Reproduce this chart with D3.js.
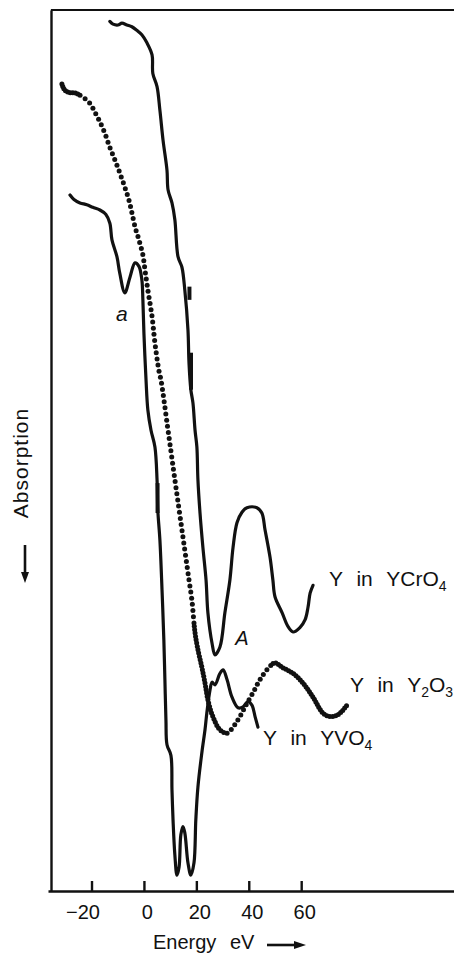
<!DOCTYPE html>
<html>
<head>
<meta charset="utf-8">
<script src="https://cdn.jsdelivr.net/npm/d3@7"></script>
<style>
  html, body { margin: 0; padding: 0; background: #fff; }
  svg { display: block; font-family: "Liberation Sans", Arial, sans-serif; }
</style>
</head>
<body>
<div id="chart"></div>
<script>
// energy (eV) vs absorption (arb. units, increasing downward)
const energyTicks = [-20, 0, 20, 40, 60];

const ycro4 = [[-13.0,1.3],[-11.8,1.6],[-9.9,1.7],[-8.4,1.5],[-6.5,1.7],[-4.6,1.9],[-2.7,2.3],[-0.8,2.8],[1.1,3.7],[3.1,5.1],[3.4,7.2],[5.0,8.7],[6.1,11.4],[7.3,14.8],[8.8,18.2],[9.2,20.4],[10.7,21.9],[11.8,23.8],[13.0,28.0],[14.5,29.2],[15.6,31.8],[16.8,36.3],[17.2,40.1],[17.9,43.1],[18.7,44.6],[19.5,47.7],[20.2,49.6],[20.6,53.3],[21.4,57.1],[22.5,61.0],[23.7,64.7],[24.4,68.4],[26.0,71.9],[27.1,73.2],[29.0,72.3],[30.9,68.4],[32.8,64.7],[34.0,61.0],[35.5,58.2],[37.4,57.0],[39.3,56.5],[43.1,56.5],[45.0,57.1],[46.2,59.0],[48.1,62.1],[49.2,64.7],[50.0,66.6],[52.7,68.4],[55.0,70.0],[56.9,70.6],[59.5,70.1],[61.5,69.2],[62.6,67.8],[63.4,66.2],[64.5,65.3]];

const y2o3 = [[-31.3,8.4],[-30.2,9.1],[-28.2,9.4],[-26.3,9.4],[-23.7,9.8],[-20.6,10.6],[-18.7,11.6],[-16.8,12.7],[-14.9,14.0],[-13.0,15.6],[-11.1,17.0],[-9.2,18.5],[-7.3,20.1],[-5.7,21.6],[-4.6,23.0],[-3.4,24.6],[-1.9,26.1],[-0.4,27.8],[0.4,29.5],[1.5,31.8],[3.1,34.8],[4.2,37.8],[5.7,40.9],[6.5,42.0],[9.2,47.7],[11.8,53.3],[14.5,59.0],[17.2,64.7],[18.3,67.0],[19.5,70.7],[20.6,72.6],[22.1,74.6],[23.3,76.4],[24.4,78.3],[26.3,80.2],[29.0,81.7],[31.7,82.1],[34.0,81.4],[36.6,80.2],[39.3,78.7],[41.6,77.5],[44.3,76.0],[46.9,74.9],[50.0,74.1],[52.7,74.6],[56.9,75.3],[60.7,76.4],[64.5,78.0],[68.3,79.8],[71.0,80.2],[74.0,80.0],[77.5,78.9]];

const yvo4 = [[-28.2,21.0],[-26.7,21.5],[-24.4,21.9],[-21.8,22.1],[-19.5,22.4],[-16.8,22.7],[-14.5,23.2],[-13.0,24.2],[-12.2,26.1],[-10.3,28.0],[-9.2,29.9],[-7.3,32.1],[-5.3,30.3],[-3.4,28.7],[-1.9,29.1],[-0.8,30.6],[-0.4,32.9],[0.0,36.7],[0.8,42.0],[1.5,45.4],[2.7,47.7],[4.2,49.6],[5.0,53.3],[5.3,56.8],[6.1,60.2],[6.9,65.8],[7.6,71.5],[8.0,76.0],[8.4,80.6],[8.8,83.4],[10.3,84.6],[10.7,88.5],[11.1,91.9],[11.8,95.9],[12.6,98.2],[13.4,97.3],[14.1,93.6],[14.9,92.7],[15.6,93.4],[16.8,96.8],[17.9,98.2],[19.1,96.8],[19.8,91.9],[20.6,88.2],[22.1,84.3],[23.3,81.7],[24.0,79.8],[25.2,77.2],[26.0,76.3],[27.1,76.6],[29.0,75.3],[30.2,74.9],[31.7,76.0],[33.6,78.0],[35.9,79.2],[37.8,79.1],[39.7,78.5],[41.2,78.9],[42.4,80.2],[43.5,81.4]];

// short heavy marks on the traces: [energy, absorption from, absorption to]
const ycro4Marks = [[16.6,31.4,32.9],[17.2,38.9,43.1]];
const yvo4Marks = [[5.2,53.7,57.1]];

const W = 454, H = 953;
const svg = d3.select('#chart').append('svg').attr('width', W).attr('height', H);
const x = d3.scaleLinear().domain([-36.6, 118.3]).range([48, 454]);
const y = d3.scaleLinear().domain([0, 100]).range([10, 891]);
const ink = '#111';

// frame
svg.append('line').attr('x1', x(-35.5)).attr('x2', W).attr('y1', y(0)).attr('y2', y(0))
  .attr('stroke', ink).attr('stroke-width', 2.2);
const yAxisG = svg.append('g').attr('transform', 'translate(51,0)')
  .call(d3.axisLeft(y).tickValues([]).tickSizeOuter(0));
yAxisG.select('.domain').attr('stroke', ink).attr('stroke-width', 2.4);

const xAxisG = svg.append('g').attr('transform', `translate(0,${y(100)})`)
  .call(d3.axisBottom(x).tickValues(energyTicks).tickSizeInner(-10).tickSizeOuter(0).tickPadding(14)
    .tickFormat(d => d < 0 ? '\u2212' + Math.abs(d) : String(d)));
xAxisG.select('.domain').attr('stroke', ink).attr('stroke-width', 2.6);
xAxisG.selectAll('.tick line').attr('stroke', ink).attr('stroke-width', 2.4);
xAxisG.selectAll('.tick text').attr('fill', ink).attr('font-size', 20)
  .attr('font-family', '"Liberation Sans", Arial, sans-serif')
  .attr('dx', d => d < 0 ? -9 : 3);

const line = d3.line().x(d => x(d[0])).y(d => y(d[1])).curve(d3.curveCatmullRom.alpha(0.5));

// solid traces
[ycro4, yvo4].forEach(data => {
  svg.append('path').datum(data).attr('d', line)
    .attr('fill', 'none').attr('stroke', ink).attr('stroke-width', 3.2)
    .attr('stroke-linejoin', 'round').attr('stroke-linecap', 'round');
});

// marks
[[ycro4Marks, 2], [yvo4Marks, 0]].forEach(([marks, off]) => {
  svg.selectAll(null).data(marks).join('line')
    .attr('x1', d => x(d[0]) + off).attr('x2', d => x(d[0]) + off)
    .attr('y1', d => y(d[1])).attr('y2', d => y(d[2]))
    .attr('stroke', ink).attr('stroke-width', 4);
});

// dotted trace: dots sampled along the curve
const guide = svg.append('path').datum(y2o3).attr('d', line).attr('fill', 'none').attr('stroke', 'none');
const node = guide.node();
const total = node.getTotalLength();
const dots = [];
for (let s = 0; s <= total; ) {
  const p = node.getPointAtLength(s);
  dots.push(p);
  const e = x.invert(p.x);
  const step = e < -25 ? 2.6 : e < 19 ? 6.2 : e < 31 ? 3.4 : e < 48 ? 5.8 : 3;
  s += step;
}
svg.append('g').selectAll('circle').data(dots).join('circle')
  .attr('cx', d => d.x).attr('cy', d => d.y).attr('r', 2.5).attr('fill', ink);

// annotations
function label(parts, e, a) {
  const t = svg.append('text').attr('x', x(e)).attr('y', y(a))
    .attr('font-size', 21).attr('word-spacing', 8).attr('fill', ink);
  parts.forEach(([txt, isSub]) => {
    t.append('tspan').text(txt)
      .attr('font-size', isSub ? 14 : 21)
      .attr('dy', isSub ? 5 : (t.selectAll('tspan').size() > 1 ? -5 : 0));
  });
}
label([['Y in YCrO', false], ['4', true]], 70.6, 65.4);
label([['Y in Y', false], ['2', true], ['O', false], ['3', true]], 78.6, 77.4);
label([['Y in YVO', false], ['4', true]], 45.4, 83.4);

svg.append('text').attr('x', x(-8.4)).attr('y', y(35.3)).attr('text-anchor', 'middle')
  .attr('font-size', 21).attr('font-style', 'italic').attr('fill', ink).text('a');
svg.append('text').attr('x', x(37.4)).attr('y', y(72.1)).attr('text-anchor', 'middle')
  .attr('font-size', 20).attr('font-style', 'italic').attr('fill', ink).text('A');

// axis titles
svg.append('text').attr('transform', 'translate(28,463) rotate(-90)').attr('text-anchor', 'middle')
  .attr('font-size', 21).attr('letter-spacing', 1).attr('fill', ink).text('Absorption');
svg.append('line').attr('x1', 25).attr('x2', 25).attr('y1', 545).attr('y2', 574)
  .attr('stroke', ink).attr('stroke-width', 2.6);
svg.append('path').attr('d', 'M21,572 L29,572 L25,583 Z').attr('fill', ink);

svg.append('text').attr('x', 153).attr('y', 949).attr('font-size', 20).attr('word-spacing', 8)
  .attr('fill', ink).text('Energy eV');
svg.append('line').attr('x1', 267).attr('x2', 296).attr('y1', 945).attr('y2', 945)
  .attr('stroke', ink).attr('stroke-width', 2.6);
svg.append('path').attr('d', 'M294,941 L294,949 L306,945 Z').attr('fill', ink);
</script>
</body>
</html>
